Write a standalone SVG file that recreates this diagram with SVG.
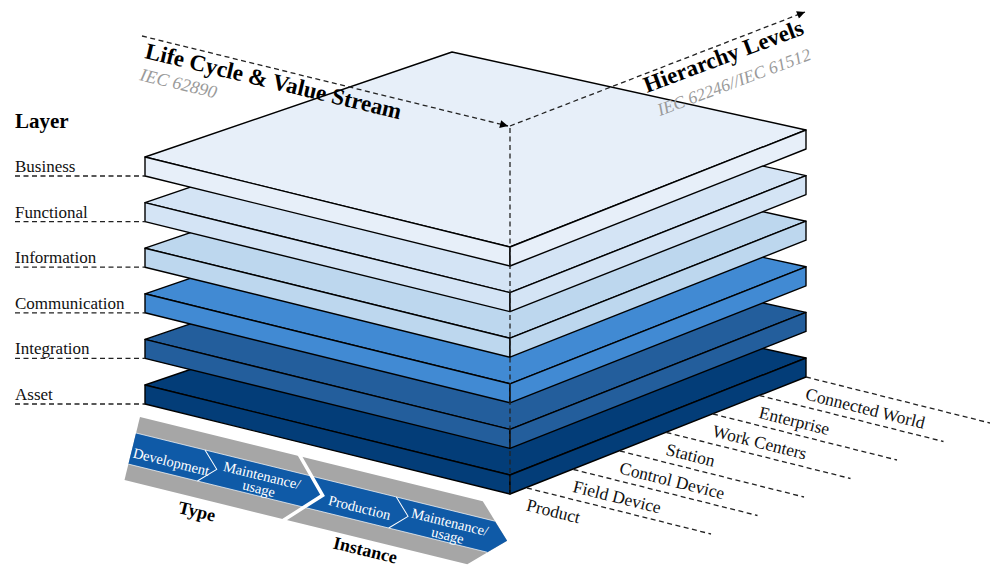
<svg xmlns="http://www.w3.org/2000/svg" width="990" height="569" viewBox="0 0 990 569">
<style>
.slab{stroke:#000;stroke-width:1.4;stroke-linejoin:round}
.biz{fill:#e7eff9}.fun{fill:#d4e4f5}.inf{fill:#bdd7ee}.com{fill:#418ad3}.int{fill:#235e9c}.ast{fill:#033d78}
.dash{fill:none;stroke:#222;stroke-width:1.3;stroke-dasharray:5 3.5}
.lbl{font-family:"Liberation Serif","Times New Roman",serif;font-size:17px;fill:#111}
.hl{font-family:"Liberation Serif","Times New Roman",serif;font-size:17.5px;fill:#111}
.title{font-family:"Liberation Serif","Times New Roman",serif;font-size:23px;font-weight:bold;fill:#000}
.iec{font-family:"Liberation Serif","Times New Roman",serif;font-style:italic;fill:#9a9a9a}
.bt{font-family:"Liberation Serif","Times New Roman",serif;font-size:14.5px;fill:#fff}
.bb{font-family:"Liberation Serif","Times New Roman",serif;font-size:18px;font-weight:bold;fill:#000}
</style>
<defs>
<marker id="arr" viewBox="0 0 10 10" refX="10" refY="5" markerWidth="9" markerHeight="8" markerUnits="userSpaceOnUse" orient="auto">
<path d="M0,0 L10,5 L0,10 z" fill="#000"/>
</marker>
</defs>

<g id="layer-asset" transform="translate(0,228)">
<polygon class="slab ast" points="145,157 452,52 806,130 510,247"/>
<polygon class="slab ast" points="145,157 510,247 510,266 145,176"/>
<polygon class="slab ast" points="510,247 806,130 806,149 510,266"/>
</g>
<g id="layer-integration" transform="translate(0,182.4)">
<polygon class="slab int" points="145,157 452,52 806,130 510,247"/>
<polygon class="slab int" points="145,157 510,247 510,266 145,176"/>
<polygon class="slab int" points="510,247 806,130 806,149 510,266"/>
</g>
<g id="layer-communication" transform="translate(0,136.8)">
<polygon class="slab com" points="145,157 452,52 806,130 510,247"/>
<polygon class="slab com" points="145,157 510,247 510,266 145,176"/>
<polygon class="slab com" points="510,247 806,130 806,149 510,266"/>
</g>
<g id="layer-information" transform="translate(0,91.2)">
<polygon class="slab inf" points="145,157 452,52 806,130 510,247"/>
<polygon class="slab inf" points="145,157 510,247 510,266 145,176"/>
<polygon class="slab inf" points="510,247 806,130 806,149 510,266"/>
</g>
<g id="layer-functional" transform="translate(0,45.6)">
<polygon class="slab fun" points="145,157 452,52 806,130 510,247"/>
<polygon class="slab fun" points="145,157 510,247 510,266 145,176"/>
<polygon class="slab fun" points="510,247 806,130 806,149 510,266"/>
</g>
<g id="layer-business">
<polygon class="slab biz" points="145,157 452,52 806,130 510,247"/>
<polygon class="slab biz" points="145,157 510,247 510,266 145,176"/>
<polygon class="slab biz" points="510,247 806,130 806,149 510,266"/>
</g>

<g id="connectors">
<line class="dash" x1="142" y1="36" x2="508" y2="126" marker-end="url(#arr)"/>
<line class="dash" x1="510" y1="126" x2="805" y2="12" marker-end="url(#arr)"/>
<line class="dash" x1="510" y1="128" x2="510" y2="494" stroke-width="1"/>
<g class="dash" stroke-width="1.2">
<line x1="15" y1="176" x2="145" y2="176"/>
<line x1="15" y1="221.6" x2="145" y2="221.6"/>
<line x1="15" y1="267.2" x2="145" y2="267.2"/>
<line x1="15" y1="312.8" x2="145" y2="312.8"/>
<line x1="15" y1="358.4" x2="145" y2="358.4"/>
<line x1="15" y1="404" x2="145" y2="404"/>
</g>
<g class="dash" stroke-width="1.2">
<line x1="527" y1="488" x2="711" y2="534"/>
<line x1="573.5" y1="469.5" x2="757.5" y2="515.5"/>
<line x1="620" y1="451" x2="804" y2="497"/>
<line x1="666.5" y1="432.5" x2="850.5" y2="478.5"/>
<line x1="713" y1="414" x2="897" y2="460"/>
<line x1="759.5" y1="395.5" x2="943.5" y2="441.5"/>
<line x1="806" y1="377" x2="990" y2="423"/>
</g>
</g>

<g id="axis-labels">
<text class="title" transform="translate(144,58) rotate(13.5)">Life Cycle &amp; Value Stream</text>
<text class="iec" font-size="18" transform="translate(139,80) rotate(13.5)">IEC 62890</text>
<text class="title" transform="translate(647,93) rotate(-20.5)">Hierarchy Levels</text>
<text class="iec" font-size="17.5" transform="translate(660,116) rotate(-20.5)">IEC 62246//IEC 61512</text>
</g>

<g id="layer-labels">
<text x="15" y="128" font-family="Liberation Serif, serif" font-size="21" font-weight="bold">Layer</text>
<text class="lbl" x="15" y="172">Business</text>
<text class="lbl" x="15" y="217.6">Functional</text>
<text class="lbl" x="15" y="263.2">Information</text>
<text class="lbl" x="15" y="308.8">Communication</text>
<text class="lbl" x="15" y="354.4">Integration</text>
<text class="lbl" x="15" y="400">Asset</text>
</g>

<g id="hierarchy-labels">
<text class="hl" transform="translate(527,488) rotate(14)" x="4" y="22">Product</text>
<text class="hl" transform="translate(573.5,469.5) rotate(14)" x="4" y="22">Field Device</text>
<text class="hl" transform="translate(620,451) rotate(14)" x="4" y="22">Control Device</text>
<text class="hl" transform="translate(666.5,432.5) rotate(14)" x="4" y="22">Station</text>
<text class="hl" transform="translate(713,414) rotate(14)" x="4" y="22">Work Centers</text>
<text class="hl" transform="translate(759.5,395.5) rotate(14)" x="4" y="22">Enterprise</text>
<text class="hl" transform="translate(806,377) rotate(14)" x="4" y="22">Connected World</text>
</g>

<g id="value-chain" transform="translate(140,417) rotate(13.8)">
<polygon points="0,0 353,0 386,32.5 353,65 0,65" fill="#a6a6a6"/>
<polygon points="0,16.5 369.5,16.5 386,32.5 369.5,48.5 0,48.5" fill="#0f5aa7"/>
<line x1="0" y1="16.5" x2="369.5" y2="16.5" stroke="#fff" stroke-width="0.8" opacity="0.8"/>
<line x1="0" y1="48.5" x2="369.5" y2="48.5" stroke="#fff" stroke-width="0.8" opacity="0.8"/>
<polyline points="163,-2 196,32.5 163,67" fill="none" stroke="#fff" stroke-width="3.5"/>
<polyline points="71,16.5 87,32.5 71,48.5" fill="none" stroke="#fff" stroke-width="1"/>
<polyline points="268,16.5 284,32.5 268,48.5" fill="none" stroke="#fff" stroke-width="1"/>
<text class="bt" x="2" y="41">Development</text>
<text class="bt" x="132.5" y="32.5" text-anchor="middle">Maintenance/</text>
<text class="bt" x="132.5" y="46" text-anchor="middle">usage</text>
<text class="bt" x="203" y="40.5">Production</text>
<text class="bt" x="326" y="33" text-anchor="middle">Maintenance/</text>
<text class="bt" x="327" y="46.5" text-anchor="middle">usage</text>
<text class="bb" x="59" y="84">Type</text>
<text class="bb" x="218" y="81.5">Instance</text>
</g>
</svg>
